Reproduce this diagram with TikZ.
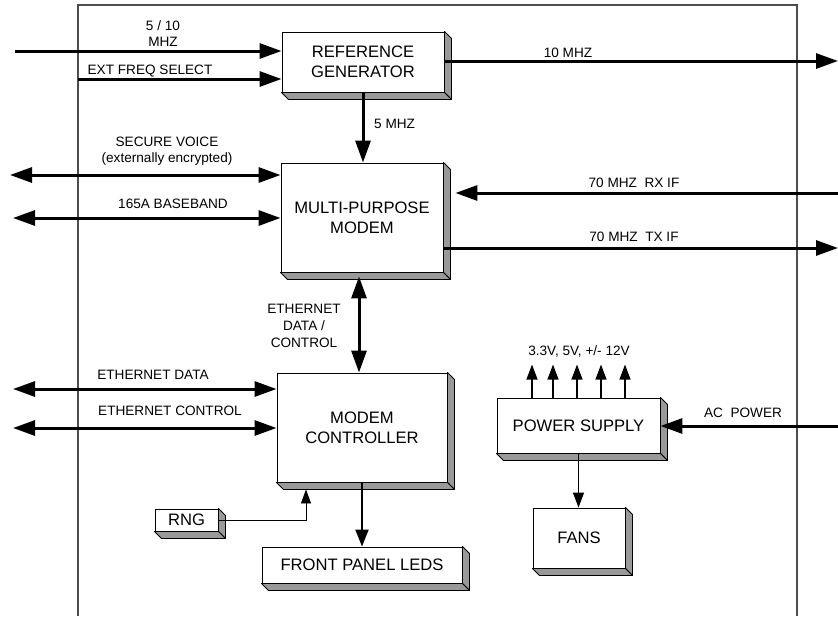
\documentclass[tikz,border=0pt]{standalone}
\usepackage{fontspec}
\setmainfont{Liberation Sans}
\usetikzlibrary{calc,arrows.meta}

\definecolor{sidegray}{HTML}{999999}
\definecolor{framegray}{HTML}{4D4D4D}

\tikzset{
  blk/.style={draw, fill=white, line width=0.9pt, font=\fontsize{16.6}{20}\selectfont, align=center, inner sep=0pt},
  lbl/.style={font=\fontsize{13.6}{16}\selectfont, align=center, inner sep=0pt},
  bus/.style={line width=3pt, -{Triangle[length=22pt,width=15pt]}},
  busboth/.style={line width=3pt, {Triangle[length=22pt,width=15pt]}-{Triangle[length=22pt,width=15pt]}},
  ledline/.style={line width=2pt, -{Triangle[length=17pt,width=13pt]}},
  sig/.style={line width=1.2pt, -{Triangle[length=15pt,width=11pt]}},
  rngline/.style={line width=0.8pt, -{Triangle[length=14pt,width=10pt]}},
}

% bevelled side and bottom of a block
\newcommand{\extrude}[1]{%
  \filldraw[fill=sidegray, draw=black, line width=0.9pt, line join=round] (#1.north east) -- ++(7,7) -- ($(#1.south east)+(7,7)$) -- (#1.south east) -- cycle;
  \filldraw[fill=sidegray, draw=black, line width=0.9pt, line join=round] (#1.south west) -- ++(7,7) -- ($(#1.south east)+(7,7)$) -- (#1.south east) -- cycle;
}

\begin{document}
\begin{tikzpicture}[x=1pt, y=-1pt]
	\useasboundingbox (0,0) rectangle (838,616);
	\draw[framegray, line width=1.3pt] (78,616) -- (78,5) -- (797,5) -- (797,616);

	\node[blk, minimum width=162pt, minimum height=60pt] (refgen) at (363,62) {REFERENCE\\GENERATOR};
	\node[blk, minimum width=162pt, minimum height=109pt] (mpm) at (362,217.5) {MULTI-PURPOSE\\MODEM};
	\node[blk, minimum width=170pt, minimum height=109pt] (ctrl) at (362,427.5) {MODEM\\CONTROLLER};
	\node[blk, minimum width=63pt, minimum height=22pt] (rng) at (186.5,520) {RNG};
	\node[blk, minimum width=200pt, minimum height=36pt] (leds) at (362,565) {FRONT PANEL LEDS};
	\node[blk, minimum width=163pt, minimum height=55pt] (psu) at (578.5,425.5) {POWER SUPPLY};
	\node[blk, minimum width=92pt, minimum height=60pt] (fans) at (579,538) {FANS};
	\foreach \b in {refgen,mpm,ctrl,rng,leds,psu,fans} {\extrude{\b}}

	% reference generator
	\coordinate (in510) at (15,51);
	\coordinate (extsel) at (78,79);
	\coordinate (out10) at (838,61);
	\draw[bus] (in510) -- (in510 -| refgen.west);
	\draw[bus] (extsel) -- (extsel -| refgen.west);
	\draw[bus] (out10 -| refgen.east) -- (out10);
	\draw[bus] (refgen.south) -- (refgen.south |- mpm.north);
	\node[lbl] (l510) at (163,34) {5 / 10\\MHZ};
	\node[lbl] (lext) at (150,71) {EXT FREQ SELECT};
	\node[lbl] (l10) at (568,53) {10 MHZ};
	\node[lbl, anchor=west] (l5) at (374,124) {5 MHZ};

	% modem
	\coordinate (voice) at (10,175);
	\coordinate (base) at (13,218);
	\coordinate (rxin) at (838,193);
	\coordinate (txout) at (838,248);
	\draw[busboth] (voice) -- (voice -| mpm.west);
	\draw[busboth] (base) -- (base -| mpm.west);
	\draw[bus] (rxin) -- ($(rxin -| mpm.east)+(12,0)$);
	\draw[bus] (txout -| mpm.east) -- (txout);
	\draw[busboth] ($(mpm.south)+(-3,4)$) -- ($(ctrl.north)+(-3,0)$);
	\node[lbl] (lvoice) at (167,151) {SECURE VOICE\\(externally encrypted)};
	\node[lbl] (lbase) at (173,204) {165A BASEBAND};
	\node[lbl] (lrx) at (634,183) {70 MHZ~~RX IF};
	\node[lbl] (ltx) at (634,237) {70 MHZ~~TX IF};
	\node[lbl, font=\fontsize{13.6}{17}\selectfont] (leth) at (304,326) {ETHERNET\\DATA /\\CONTROL};

	% controller
	\coordinate (ethd) at (13,389);
	\coordinate (ethc) at (13,428);
	\draw[busboth] (ethd) -- (ethd -| ctrl.west);
	\draw[busboth] (ethc) -- (ethc -| ctrl.west);
	\draw[rngline] (rng.east) -| ($(ctrl.south)+(-56,7)$);
	\draw[ledline] (ctrl.south) -- (leds.north);
	\node[lbl] (lethd) at (153,375) {ETHERNET DATA};
	\node[lbl] (lethc) at (170,411) {ETHERNET CONTROL};

	% power
	\coordinate (acin) at (838,426);
	\foreach \dx in {-46.5,-25.5,-1.5,22.5,46.5}
		\draw[sig] ($(psu.north)+(\dx,0)$) -- ++(0,-33);
	\draw[bus] (acin) -- (acin -| psu.east);
	\draw[sig] (psu.south) -- (psu.south |- fans.north);
	\node[lbl] (lvolt) at (579,351) {3.3V, 5V, +/- 12V};
	\node[lbl] (lac) at (743,413) {AC~~POWER};
\end{tikzpicture}
\end{document}
